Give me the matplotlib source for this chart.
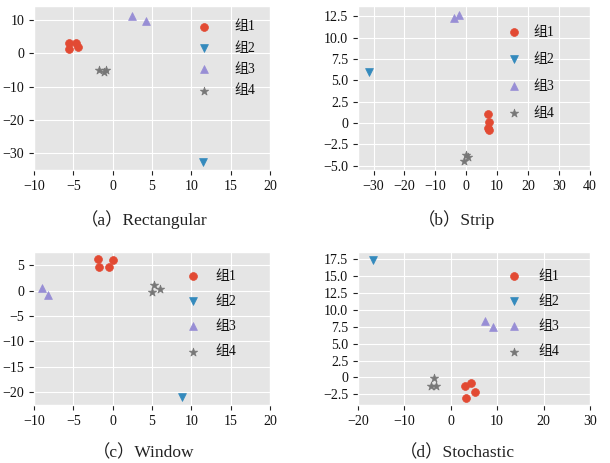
import matplotlib
matplotlib.use("Agg")
import matplotlib.pyplot as plt

plt.style.use("ggplot")
plt.rcParams['font.family'] = ['Liberation Serif', 'Noto Sans CJK SC', 'DejaVu Sans']
plt.rcParams['axes.unicode_minus'] = True

labels = ["组1", "组2", "组3", "组4"]
colors = ["#E24A33", "#348ABD", "#988ED5", "#777777"]
markers = ["o", "v", "^", "*"]

# (a) Rectangular
a_g1 = [(-5.6, 3.0), (-5.6, 1.2), (-4.6, 3.0), (-4.4, 1.8)]
a_g2 = [(11.5, -32.5)]
a_g3 = [(2.5, 11.3), (4.2, 9.8)]
a_g4 = [(-1.7, -5.0), (-1.1, -5.7), (-0.8, -5.1)]

# (b) Strip
b_g1 = [(7.2, 1.0), (7.3, 0.1), (7.0, -0.6), (7.5, -0.8)]
b_g2 = [(-31.6, 6.0)]
b_g3 = [(-3.8, 12.3), (-2.3, 12.6)]
b_g4 = [(-0.6, -4.4), (0.0, -3.8), (0.6, -4.0)]

# (c) Window
c_g1 = [(-1.9, 6.2), (-1.8, 4.7), (-0.5, 4.7), (0.1, 6.0)]
c_g2 = [(8.85, -20.9)]
c_g3 = [(-9.0, 0.45), (-8.2, -0.85)]
c_g4 = [(5.2, 1.1), (5.0, -0.3), (6.0, 0.3)]

# (d) Stochastic
d_g1 = [(3.0, -1.3), (4.4, -0.9), (5.2, -2.1), (3.3, -3.0)]
d_g2 = [(-16.8, 17.4)]
d_g3 = [(7.4, 8.4), (9.2, 7.4)]
d_g4 = [(-3.7, -0.1), (-4.2, -1.2), (-3.1, -1.2)]

# groups, xlim, ylim, xticks, yticks, caption, axes rect, caption pos, legend (anchor, textpad, spacing)
panels = [
    ([a_g1, a_g2, a_g3, a_g4], (-10, 20), (-35, 14.2), [-10, -5, 0, 5, 10, 15, 20], [-30, -20, -10, 0, 10],
     "（a）Rectangular", [0.0557, 0.633, 0.387, 0.354], (0.236, 0.525), ((0.323, 0.956), 1.7, 0.6)),
    ([b_g1, b_g2, b_g3, b_g4], (-35, 40), (-5.5, 13.7), [-30, -20, -10, 0, 10, 20, 30, 40],
     [-5.0, -2.5, 0, 2.5, 5.0, 7.5, 10.0, 12.5],
     "（b）Strip", [0.587, 0.633, 0.380, 0.354], (0.749, 0.525), ((0.831, 0.944), 0.9, 1.0)),
    ([c_g1, c_g2, c_g3, c_g4], (-10, 20), (-22.5, 7.5), [-10, -5, 0, 5, 10, 15, 20], [-20, -15, -10, -5, 0, 5],
     "（c）Window", [0.0557, 0.125, 0.387, 0.330], (0.236, 0.022), ((0.305, 0.417), 1.15, 0.87)),
    ([d_g1, d_g2, d_g3, d_g4], (-20, 30), (-4.1, 18.5), [-20, -10, 0, 10, 20, 30],
     [-2.5, 0, 2.5, 5.0, 7.5, 10.0, 12.5, 15.0, 17.5],
     "（d）Stochastic", [0.587, 0.125, 0.380, 0.330], (0.75, 0.022), ((0.831, 0.417), 1.25, 0.87)),
]


def fmt(v):
    if v == 0:
        return "0"
    if isinstance(v, int):
        return str(v).replace("-", "−")
    return ("%.1f" % v).replace("-", "−")


fig = plt.figure(figsize=(6.1, 4.63), dpi=100)
for groups, xl, yl, xt, yt, cap, rect, cpos, leg in panels:
    ax = fig.add_axes(rect)
    for g, lab, c, m in zip(groups, labels, colors, markers):
        xs = [p[0] for p in g]
        ys = [p[1] for p in g]
        ax.scatter(xs, ys, c=c, marker=m, s=40 if m == "*" else 32, label=lab, zorder=3)
    ax.set_xlim(*xl)
    ax.set_ylim(*yl)
    ax.set_xticks(xt)
    ax.set_yticks(yt)
    ax.set_xticklabels([fmt(v) for v in xt])
    ax.set_yticklabels([fmt(v) for v in yt])
    ax.tick_params(labelsize=10, colors="#222222", labelcolor="#111111")
    anchor, tpad, lspace = leg
    ax.legend(loc="upper left", bbox_to_anchor=anchor, bbox_transform=fig.transFigure,
              frameon=False, fontsize=10, labelspacing=lspace, handlelength=1.0,
              handletextpad=tpad, borderpad=0, borderaxespad=0, labelcolor="#111111")
    fig.text(cpos[0], cpos[1], cap, ha="center", va="center", fontsize=12.5, color="#222222")

fig.savefig("out.png", dpi=100)
